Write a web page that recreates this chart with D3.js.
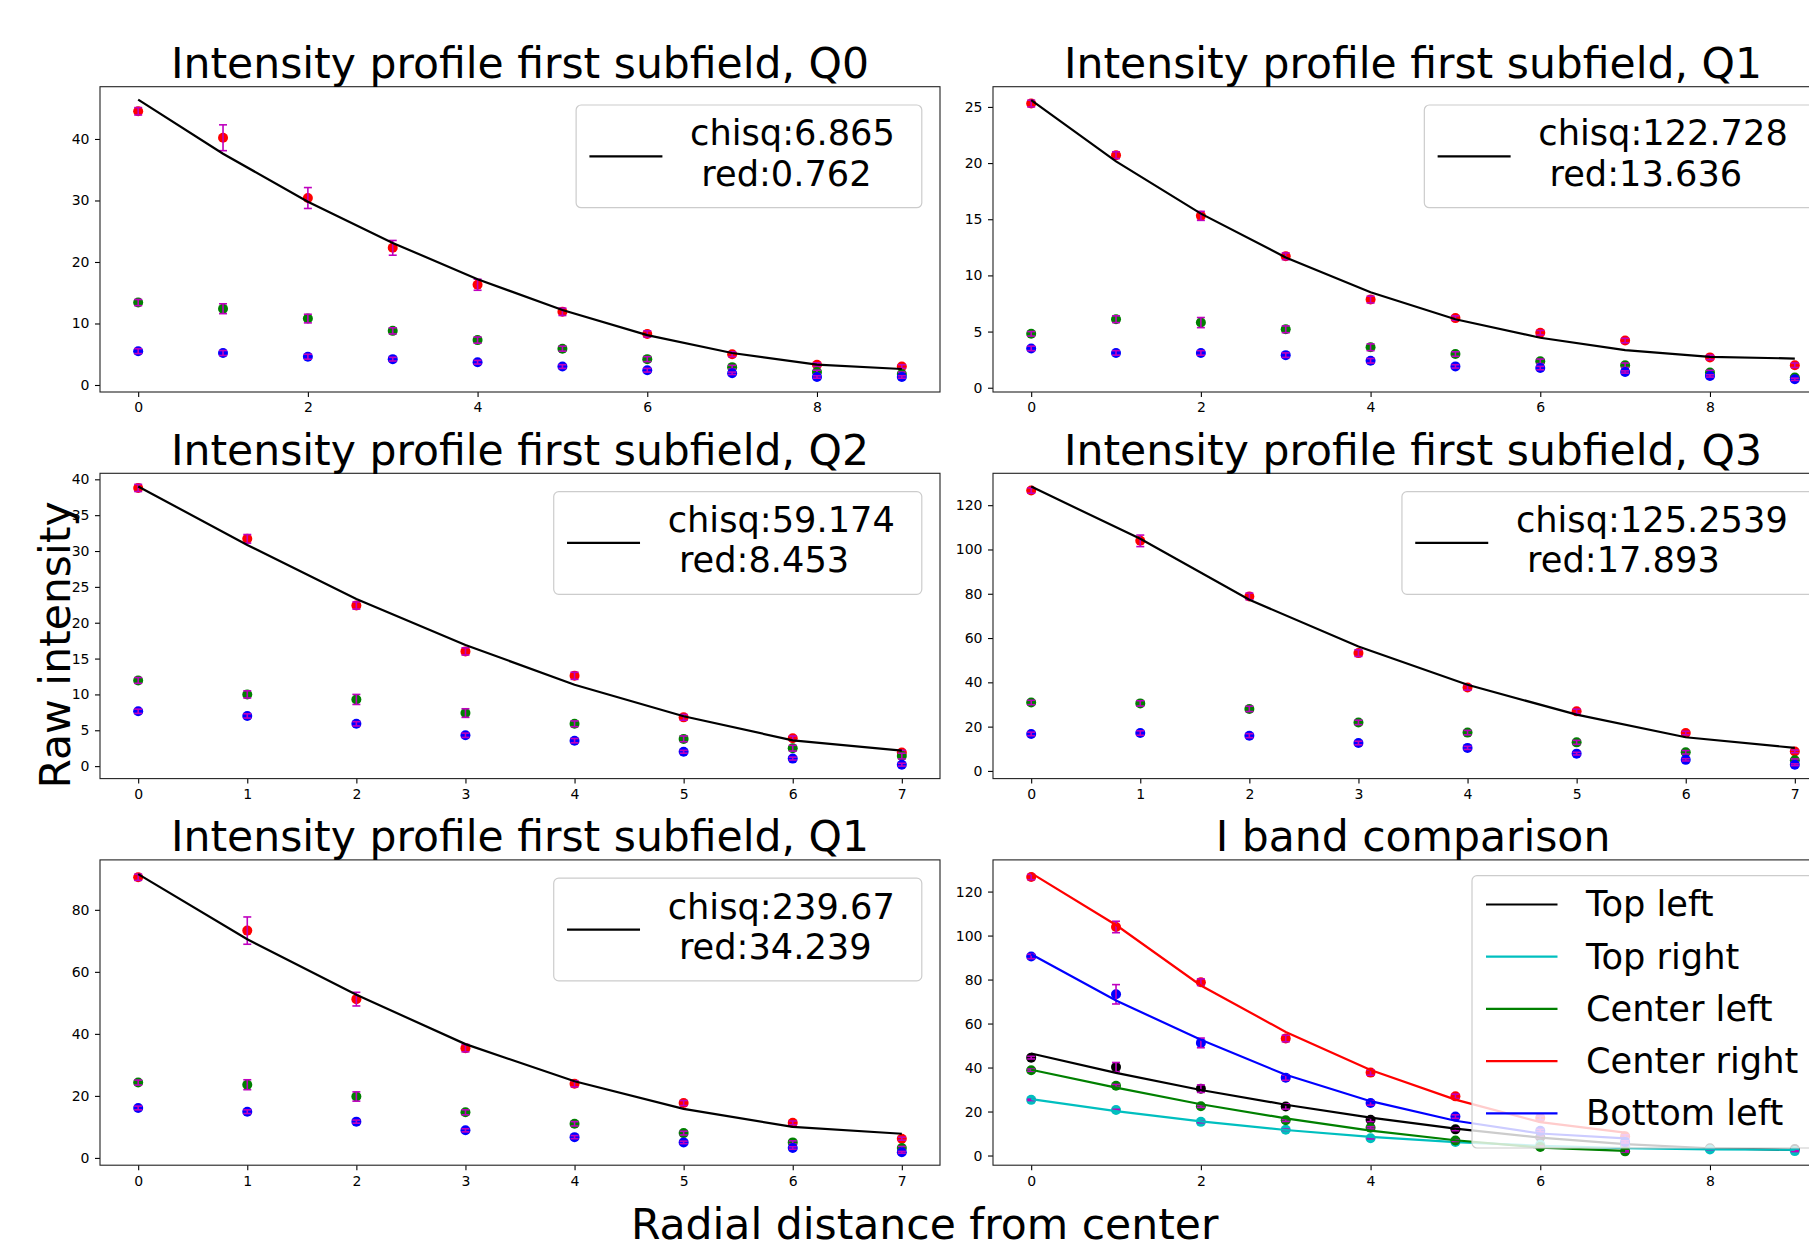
<!DOCTYPE html>
<html>
<head>
<meta charset="utf-8">
<script src="https://cdnjs.cloudflare.com/ajax/libs/d3/7.8.5/d3.min.js"></script>
<style>
    body { margin: 0; background: #fff; }
    svg { display: block; font-family: "DejaVu Sans", sans-serif; }
</style>
</head>
<body>
<svg id="fig" width="1809" height="1248"></svg>
<script>
// radial positions
const x10 = [0, 1, 2, 3, 4, 5, 6, 7, 8, 9];
const x8 = [0, 1, 2, 3, 4, 5, 6, 7];

// Q0 (top left)
const q0Red = [44.5, 40.2, 30.4, 22.3, 16.3, 11.9, 8.3, 5.0, 3.3, 3.0];
const q0RedErr = [0.6, 2.1, 1.7, 1.2, 0.9, 0.6, 0.5, 0.4, 0.3, 0.3];
const q0Green = [13.4, 12.4, 10.8, 8.8, 7.3, 5.9, 4.2, 2.9, 2.1, 1.8];
const q0GreenErr = [0.5, 0.8, 0.7, 0.5, 0.5, 0.4, 0.4, 0.3, 0.3, 0.3];
const q0Blue = [5.5, 5.2, 4.6, 4.2, 3.7, 3.0, 2.4, 1.9, 1.3, 1.3];
const q0BlueErr = [0.4, 0.4, 0.4, 0.3, 0.3, 0.3, 0.3, 0.2, 0.2, 0.2];
const q0Fit = [46.4, 37.6, 29.8, 23.1, 17.2, 12.2, 8.1, 5.2, 3.3, 2.6];

// Q1 (top right)
const q1Red = [25.3, 20.7, 15.3, 11.7, 7.85, 6.2, 4.9, 4.2, 2.7, 2.0];
const q1RedErr = [0.3, 0.3, 0.4, 0.3, 0.3, 0.2, 0.2, 0.2, 0.2, 0.2];
const q1Green = [4.8, 6.1, 5.8, 5.2, 3.6, 3.0, 2.35, 2.0, 1.35, 0.9];
const q1GreenErr = [0.2, 0.3, 0.45, 0.3, 0.3, 0.2, 0.2, 0.2, 0.2, 0.1];
const q1Blue = [3.5, 3.1, 3.1, 2.9, 2.4, 1.9, 1.75, 1.4, 1.05, 0.75];
const q1BlueErr = [0.2, 0.2, 0.2, 0.2, 0.2, 0.15, 0.15, 0.1, 0.1, 0.1];
const q1Fit = [25.6, 20.15, 15.5, 11.6, 8.5, 6.1, 4.45, 3.35, 2.75, 2.6];

// Q2 (middle left)
const q2Red = [38.8, 31.7, 22.4, 16.0, 12.6, 6.8, 3.9, 1.9];
const q2RedErr = [0.5, 0.6, 0.5, 0.5, 0.5, 0.4, 0.3, 0.3];
const q2Green = [11.95, 10.0, 9.3, 7.4, 5.9, 3.8, 2.5, 1.4];
const q2GreenErr = [0.4, 0.5, 0.7, 0.6, 0.4, 0.4, 0.4, 0.4];
const q2Blue = [7.65, 7.0, 5.9, 4.3, 3.55, 2.0, 1.05, 0.2];
const q2BlueErr = [0.3, 0.3, 0.3, 0.3, 0.3, 0.2, 0.2, 0.2];
const q2Fit = [39.0, 30.85, 23.3, 16.9, 11.35, 6.95, 3.6, 2.15];

// Q3 (middle right)
const q3Red = [126.6, 103.9, 78.8, 53.2, 37.7, 26.9, 17.1, 8.8];
const q3RedErr = [1.2, 2.6, 1.5, 1.5, 1.2, 1.0, 0.8, 0.6];
const q3Green = [30.9, 30.5, 28.0, 21.9, 17.3, 12.9, 8.4, 4.8];
const q3GreenErr = [1.0, 1.2, 1.2, 1.0, 1.0, 0.9, 0.8, 0.6];
const q3Blue = [16.7, 17.1, 15.9, 12.6, 10.4, 7.8, 5.0, 2.8];
const q3BlueErr = [0.8, 1.0, 0.9, 0.8, 0.7, 0.6, 0.5, 0.4];
const q3Fit = [128.4, 104.8, 77.3, 56.2, 38.9, 25.4, 15.2, 10.4];

// second Q1 (bottom left)
const q1bRed = [90.5, 73.3, 51.2, 35.4, 23.9, 17.7, 11.3, 6.2];
const q1bRedErr = [1.0, 4.4, 2.2, 1.2, 1.0, 0.8, 0.6, 0.5];
const q1bGreen = [24.3, 23.6, 19.8, 14.7, 11.0, 8.0, 5.0, 3.2];
const q1bGreenErr = [0.8, 1.6, 1.5, 0.8, 0.7, 0.6, 0.5, 0.5];
const q1bBlue = [16.1, 14.9, 11.7, 8.9, 6.7, 5.0, 3.2, 1.8];
const q1bBlueErr = [0.6, 0.6, 0.5, 0.5, 0.5, 0.4, 0.4, 0.3];
const q1bFit = [91.5, 70.5, 52.6, 36.7, 24.7, 15.8, 10.0, 7.8];

const titles = [
    "Intensity profile first subfield, Q0",
    "Intensity profile first subfield, Q1",
    "Intensity profile first subfield, Q2",
    "Intensity profile first subfield, Q3",
    "Intensity profile first subfield, Q1",
    "I band comparison"
];
const chiLabels = [
    ["chisq:6.865", " red:0.762"],
    ["chisq:122.728", " red:13.636"],
    ["chisq:59.174", " red:8.453"],
    ["chisq:125.2539", " red:17.893"],
    ["chisq:239.67", " red:34.239"]
];
const bandNames = ["Top left", "Top right", "Center left", "Center right", "Bottom left"];
const bandColors = ["#000000", "#00bfbf", "#008000", "#ff0000", "#0000ff"];

// axis limits and ticks
const yLimits = [[-1.14, 48.5], [-0.38, 26.8], [-1.74, 40.84], [-3.47, 134.4], [-2.35, 96.1], [-4.4, 134.4]];
const yTicks = [[0, 10, 20, 30, 40], [0, 5, 10, 15, 20, 25], [0, 5, 10, 15, 20, 25, 30, 35, 40],
    [0, 20, 40, 60, 80, 100, 120], [0, 20, 40, 60, 80], [0, 20, 40, 60, 80, 100, 120]];
const xTicks10 = [0, 2, 4, 6, 8];
const xTicks8 = [0, 1, 2, 3, 4, 5, 6, 7];

const svg = d3.select("#fig");
const axW = 840, axH = 305.3;
const colX = [100, 993];
const rowY = [86.7, 473.3, 859.9];
const magenta = "#bf00bf";

function pointSeries(xs, vals, errs, color) {
    return { xs, vals, errs, color };
}

const panels = [
    { xs: x10, xTicks: xTicks10, fit: q0Fit, series: [pointSeries(x10, q0Red, q0RedErr, "#ff0000"), pointSeries(x10, q0Green, q0GreenErr, "#008000"), pointSeries(x10, q0Blue, q0BlueErr, "#0000ff")] },
    { xs: x10, xTicks: xTicks10, fit: q1Fit, series: [pointSeries(x10, q1Red, q1RedErr, "#ff0000"), pointSeries(x10, q1Green, q1GreenErr, "#008000"), pointSeries(x10, q1Blue, q1BlueErr, "#0000ff")] },
    { xs: x8, xTicks: xTicks8, fit: q2Fit, series: [pointSeries(x8, q2Red, q2RedErr, "#ff0000"), pointSeries(x8, q2Green, q2GreenErr, "#008000"), pointSeries(x8, q2Blue, q2BlueErr, "#0000ff")] },
    { xs: x8, xTicks: xTicks8, fit: q3Fit, series: [pointSeries(x8, q3Red, q3RedErr, "#ff0000"), pointSeries(x8, q3Green, q3GreenErr, "#008000"), pointSeries(x8, q3Blue, q3BlueErr, "#0000ff")] },
    { xs: x8, xTicks: xTicks8, fit: q1bFit, series: [pointSeries(x8, q1bRed, q1bRedErr, "#ff0000"), pointSeries(x8, q1bGreen, q1bGreenErr, "#008000"), pointSeries(x8, q1bBlue, q1bBlueErr, "#0000ff")] }
];

panels.forEach((p, i) => {
    const g = makeAxes(i, p.xs.length === 10 ? [-0.45, 9.45] : [-0.35, 7.35], p.xTicks);
    p.series.forEach(s => drawPoints(g, s));
    drawLine(g, p.xs, p.fit, "#000000");
    drawChiLegend(g, chiLabels[i]);
});

// I band comparison
const band = [
    { xs: x10, vals: q0Red, errs: q0RedErr, fit: q0Fit },
    { xs: x10, vals: q1Red, errs: q1RedErr, fit: q1Fit },
    { xs: x8, vals: q2Red, errs: q2RedErr, fit: q2Fit },
    { xs: x8, vals: q3Red, errs: q3RedErr, fit: q3Fit },
    { xs: x8, vals: q1bRed, errs: q1bRedErr, fit: q1bFit }
];
const gb = makeAxes(5, [-0.45, 9.45], xTicks10);
band.forEach((b, i) => {
    drawPoints(gb, pointSeries(b.xs, b.vals, b.errs, bandColors[i]));
    drawLine(gb, b.xs, b.fit, bandColors[i]);
});
drawBandLegend(gb);

svg.append("text")
    .attr("x", 924.7).attr("y", 1239)
    .attr("text-anchor", "middle")
    .style("font-size", "42.5px")
    .text("Radial distance from center");

svg.append("text")
    .attr("transform", "translate(70,645) rotate(-90)")
    .attr("text-anchor", "middle")
    .style("font-size", "42.5px")
    .text("Raw intensity");

function makeAxes(i, xDomain, xTickVals) {
    const left = colX[i % 2], top = rowY[Math.floor(i / 2)];
    const g = svg.append("g").attr("transform", `translate(${left},${top})`);
    g.node().__x = d3.scaleLinear().domain(xDomain).range([0, axW]);
    g.node().__y = d3.scaleLinear().domain(yLimits[i]).range([axH, 0]);

    const xa = g.append("g")
        .attr("transform", `translate(0,${axH})`)
        .call(d3.axisBottom(g.node().__x).tickValues(xTickVals).tickSize(5).tickPadding(5.5).tickFormat(d3.format("d")));
    const ya = g.append("g")
        .call(d3.axisLeft(g.node().__y).tickValues(yTicks[i]).tickSize(5).tickPadding(5.5).tickFormat(d3.format("d")));
    [xa, ya].forEach(a => {
        a.attr("font-family", null).attr("font-size", null);
        a.select(".domain").remove();
        a.selectAll("text").style("font-size", "14px").attr("fill", "#000");
        a.selectAll("line").attr("stroke", "#000").attr("stroke-width", 1.1);
    });

    g.append("rect")
        .attr("width", axW).attr("height", axH)
        .attr("fill", "none").attr("stroke", "#222").attr("stroke-width", 1.1);

    g.append("text")
        .attr("x", axW / 2).attr("y", -8.5)
        .attr("text-anchor", "middle")
        .style("font-size", "42.5px")
        .text(titles[i]);
    return g;
}

function drawPoints(g, s) {
    const x = g.node().__x, y = g.node().__y;
    const pts = s.xs.map((d, k) => ({ x: d, v: s.vals[k], e: s.errs[k] }));
    g.append("g").selectAll("circle")
        .data(pts)
        .join("circle")
        .attr("cx", d => x(d.x))
        .attr("cy", d => y(d.v))
        .attr("r", 5)
        .attr("fill", s.color);
    const eb = g.append("g").attr("stroke", magenta).attr("stroke-width", 1.6);
    eb.selectAll(".bar").data(pts).join("line")
        .attr("x1", d => x(d.x)).attr("x2", d => x(d.x))
        .attr("y1", d => y(d.v - d.e)).attr("y2", d => y(d.v + d.e));
    eb.selectAll(".capLo").data(pts).join("line")
        .attr("x1", d => x(d.x) - 4).attr("x2", d => x(d.x) + 4)
        .attr("y1", d => y(d.v - d.e)).attr("y2", d => y(d.v - d.e));
    eb.selectAll(".capHi").data(pts).join("line")
        .attr("x1", d => x(d.x) - 4).attr("x2", d => x(d.x) + 4)
        .attr("y1", d => y(d.v + d.e)).attr("y2", d => y(d.v + d.e));
}

function drawLine(g, xs, vals, color) {
    const x = g.node().__x, y = g.node().__y;
    g.append("path")
        .datum(xs.map((d, k) => [d, vals[k]]))
        .attr("d", d3.line().x(d => x(d[0])).y(d => y(d[1])))
        .attr("fill", "none")
        .attr("stroke", color)
        .attr("stroke-width", 2.2);
}

function drawChiLegend(g, lines) {
    const lg = g.append("g");
    const box = lg.append("rect");
    const t = lg.append("text").style("font-size", "35.2px").style("white-space", "pre");
    const t1 = t.append("tspan").text(lines[0]);
    const t2 = t.append("tspan").text(lines[1]);
    const tw = Math.max(t1.node().getComputedTextLength(), t2.node().getComputedTextLength());
    const w = tw + 141, h = 102.7;
    const bx = axW - 18.2 - w, by = 18.3, cy = by + h / 2;
    box.attr("x", bx).attr("y", by).attr("width", w).attr("height", h).attr("rx", 5)
        .attr("fill", "#fff").attr("fill-opacity", 0.8).attr("stroke", "#cccccc").attr("stroke-width", 1.2);
    t1.attr("x", bx + 114).attr("y", cy - 11);
    t2.attr("x", bx + 114).attr("y", cy + 29.5);
    lg.append("line")
        .attr("x1", bx + 13.3).attr("x2", bx + 86.3)
        .attr("y1", cy).attr("y2", cy)
        .attr("stroke", "#000").attr("stroke-width", 2.2);
}

function drawBandLegend(g) {
    const lg = g.append("g");
    const bx = 1472 - 993, by = 875.7 - 859.9, h = 1148 - 875.7;
    lg.append("rect")
        .attr("x", bx).attr("y", by).attr("width", 360).attr("height", h).attr("rx", 5)
        .attr("fill", "#fff").attr("fill-opacity", 0.8).attr("stroke", "#cccccc").attr("stroke-width", 1.2);
    bandNames.forEach((name, i) => {
        const cy = by + 28.8 + i * 52.2;
        lg.append("line")
            .attr("x1", bx + 14).attr("x2", bx + 85.5)
            .attr("y1", cy).attr("y2", cy)
            .attr("stroke", bandColors[i]).attr("stroke-width", 2.2);
        lg.append("text")
            .attr("x", bx + 114).attr("y", cy + 12)
            .style("font-size", "35.2px")
            .text(name);
    });
}
</script>
</body>
</html>
